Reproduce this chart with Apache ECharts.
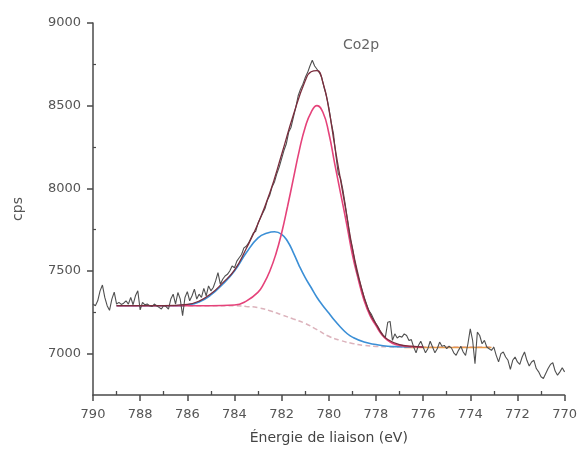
<!DOCTYPE html>
<html>
<head>
<meta charset="utf-8">
<script src="https://cdn.jsdelivr.net/npm/echarts@6/dist/echarts.min.js"></script>
<style>html,body{margin:0;padding:0;background:#fff}#c{width:580px;height:452px}</style>
</head>
<body>
<div id="c"></div>
<script>
// ---- Data ----
var xTicks = [790, 788, 786, 784, 782, 780, 778, 776, 774, 772, 770];
var xMinorTicks = [789, 787, 785, 783, 781, 779, 777, 775, 773, 771];
var yTicks = [7000, 7500, 8000, 8500, 9000];
var yMinorTicks = [7250, 7750, 8250, 8750];

// raw spectrum, energies (eV)
var rawE = [790,789.9,789.8,789.7,789.6,789.5,789.4,789.3,789.2,789.1,789,788.9,788.8,788.7,788.6,788.5,788.4,788.3,788.2,788.1,788,787.9,787.8,787.7,787.6,787.5,787.4,787.3,787.2,787.1,787,786.9,786.8,786.7,786.6,786.5,786.4,786.3,786.2,786.1,786,785.9,785.8,785.7,785.6,785.5,785.4,785.3,785.2,785.1,785,784.9,784.8,784.7,784.6,784.5,784.4,784.3,784.2,784.1,784,783.9,783.8,783.7,783.6,783.5,783.4,783.3,783.2,783.1,783,782.9,782.8,782.7,782.6,782.5,782.4,782.3,782.2,782.1,782,781.9,781.8,781.7,781.6,781.5,781.4,781.3,781.2,781.1,781,780.9,780.8,780.7,780.6,780.5,780.4,780.3,780.2,780.1,780,779.9,779.8,779.7,779.6,779.5,779.4,779.3,779.2,779.1,779,778.9,778.8,778.7,778.6,778.5,778.4,778.3,778.2,778.1,778,777.9,777.8,777.7,777.6,777.5,777.4,777.3,777.2,777.1,777,776.9,776.8,776.7,776.6,776.5,776.4,776.3,776.2,776.1,776,775.9,775.8,775.7,775.6,775.5,775.4,775.3,775.2,775.1,775,774.9,774.8,774.7,774.6,774.5,774.4,774.3,774.2,774.1,774,773.9,773.8,773.7,773.6,773.5,773.4,773.3,773.2,773.1,773,772.9,772.8,772.7,772.6,772.5,772.4,772.3,772.2,772.1,772,771.9,771.8,771.7,771.6,771.5,771.4,771.3,771.2,771.1,771,770.9,770.8,770.7,770.6,770.5,770.4,770.3,770.2,770.1,770];
// raw spectrum, counts (cps)
var rawV = [7300,7290,7320,7380,7415,7340,7290,7262,7330,7372,7300,7310,7298,7305,7320,7300,7340,7296,7350,7380,7265,7310,7295,7300,7290,7285,7300,7290,7280,7270,7292,7285,7270,7330,7360,7300,7370,7330,7230,7340,7375,7320,7350,7390,7330,7360,7340,7395,7350,7410,7380,
7400,7440,7490,7420,7450,7470,7480,7500,7530,7520,7560,7580,7600,7640,7650,7670,7700,7730,7740,7790,7820,7850,7880,7930,7960,8010,8040,8090,8130,8180,8230,8270,8340,8370,8430,8490,8560,8600,8630,8670,8700,8740,8775,8740,8720,8700,8670,8610,8560,8490,8400,8330,8200,8090,8060,7990,7900,7800,7700,7640,7560,7490,7440,7390,7340,7300,7260,7240,7210,7180,7160,7130,7110,7100,7190,7195,7080,7120,7095,
7105,7100,7120,7110,7080,7085,7040,7005,7050,7075,7040,7005,7030,7075,7040,7005,7030,7070,7045,7050,7030,7045,7035,7005,6990,7020,7045,7010,6990,7060,7150,7080,6940,7130,7110,7060,7080,7040,7030,7020,
7040,6990,6950,7000,7010,6980,6960,6905,6960,6980,6950,6935,6980,7010,6960,6925,6950,6960,6910,6890,6860,6850,6880,6910,6935,6945,6895,6870,6890,6915,6890];

// fit envelope
var envE = [789,787,786,785.5,785,784.5,784,783.5,783,782.5,782,781.5,781,780.75,780.5,780.25,780,779.75,779.5,779.25,779,778.75,778.5,778.25,778,777.75,777.5,777,776.5,776];
var envV = [7290,7290,7298,7318,7362,7428,7505,7636,7787,7973,8205,8445,8650,8705,8712,8640,8480,8258,8050,7845,7638,7475,7340,7242,7180,7122,7086,7055,7045,7040];

// component 1 (red)
var redE = [789,785,784,783.5,783,782.75,782.5,782.25,782,781.75,781.5,781.25,781,780.75,780.5,780.25,780,779.75,779.5,779.25,779,778.75,778.5,778.25,778,777.75,777.5,777.25,777,776.5,776];
var redV = [7290,7290,7294,7318,7372,7425,7500,7600,7730,7890,8060,8230,8370,8460,8500,8460,8335,8150,7970,7790,7600,7450,7320,7230,7170,7115,7080,7060,7050,7042,7040];

// component 2 (blue)
var blueE = [789,786.5,786,785.5,785,784.5,784,783.5,783,782.6,782.3,782,781.75,781.5,781.25,781,780.75,780.5,780.25,780,779.75,779.5,779.25,779,778.5,778,777.5,777,776.5];
var blueV = [7290,7290,7295,7313,7355,7420,7500,7610,7700,7730,7737,7722,7680,7610,7530,7460,7400,7340,7290,7246,7200,7160,7125,7100,7070,7055,7045,7042,7040];

// background (dashed)
var bgE = [789,785,784,783.5,783,782.5,782,781.5,781,780.5,780,779.5,779,778.5,778,777.5,777,773];
var bgV = [7290,7290,7290,7286,7278,7260,7235,7210,7183,7145,7105,7080,7062,7050,7044,7041,7040,7040];

// flat segment (orange)
var orangeE = [776.8, 773.1];
var orangeV = [7038, 7038];

function pairs(e, v) { return e.map(function (x, i) { return [x, v[i]]; }); }

var chart = echarts.init(document.getElementById('c'), null, { renderer: 'canvas' });
var font = 'DejaVu Sans';
var axisCol = '#4a4a4a';
chart.setOption({
  animation: false,
  backgroundColor: '#fff',
  grid: { left: 93, right: 13, top: 23, height: 372 },
  xAxis: [{
    type: 'value', inverse: true, min: 770, max: 790, interval: 2,
    name: 'Énergie de liaison (eV)', nameLocation: 'middle', nameGap: 36,
    nameTextStyle: { fontFamily: font, fontSize: 14, color: '#444' },
    axisLine: { lineStyle: { color: axisCol, width: 1.5 } },
    axisTick: { show: true, length: 6, customValues: xTicks, lineStyle: { color: axisCol, width: 1.5 } },
    axisLabel: { fontFamily: font, fontSize: 13, color: '#555', margin: 13, customValues: xTicks },
    splitLine: { show: false }
  }, {
    type: 'value', inverse: true, min: 770, max: 790, position: 'bottom',
    axisLine: { show: false },
    axisTick: { show: true, inside: true, length: 4, customValues: xMinorTicks, lineStyle: { color: axisCol, width: 1.3 } },
    axisLabel: { show: false },
    splitLine: { show: false }
  }],
  yAxis: [{
    type: 'value', min: 6750, max: 9000,
    name: 'cps', nameLocation: 'middle', nameGap: 68,
    nameTextStyle: { fontFamily: font, fontSize: 14, color: '#555' },
    axisLine: { show: true, lineStyle: { color: axisCol, width: 1.5 } },
    axisTick: { show: true, length: 6, customValues: yTicks, lineStyle: { color: axisCol, width: 1.5 } },
    axisLabel: { fontFamily: font, fontSize: 13, color: '#555', margin: 12, customValues: yTicks,
      formatter: function (v) { return String(v); } },
    splitLine: { show: false }
  }, {
    type: 'value', min: 6750, max: 9000, position: 'left',
    axisLine: { show: false },
    axisTick: { show: true, inside: true, length: 3, customValues: yMinorTicks, lineStyle: { color: axisCol, width: 1.2 } },
    axisLabel: { show: false },
    splitLine: { show: false }
  }],
  graphic: [{
    type: 'text', left: 343, top: 38,
    style: { text: 'Co2p', fontFamily: font, fontSize: 14, fill: '#666' }
  }],
  series: [
    { type: 'line', data: pairs(bgE, bgV), showSymbol: false, smooth: 0.5,
      lineStyle: { color: '#dcb3bc', width: 1.5, type: [5, 3] }, z: 2 },
    { type: 'line', data: pairs(orangeE, orangeV), showSymbol: false,
      lineStyle: { color: '#e89a4a', width: 1.5 }, z: 3 },
    { type: 'line', data: pairs(blueE, blueV), showSymbol: false, smooth: 0.5,
      lineStyle: { color: '#3b8fd6', width: 1.6 }, z: 4 },
    { type: 'line', data: pairs(redE, redV), showSymbol: false, smooth: 0.5,
      lineStyle: { color: '#e5427a', width: 1.6 }, z: 5 },
    { type: 'line', data: pairs(rawE, rawV), showSymbol: false,
      lineStyle: { color: '#505050', width: 1.1 }, z: 6 },
    { type: 'line', data: pairs(envE, envV), showSymbol: false, smooth: 0.5,
      lineStyle: { color: '#7a2d3d', width: 1.3 }, z: 7 }
  ]
});
</script>
</body>
</html>
